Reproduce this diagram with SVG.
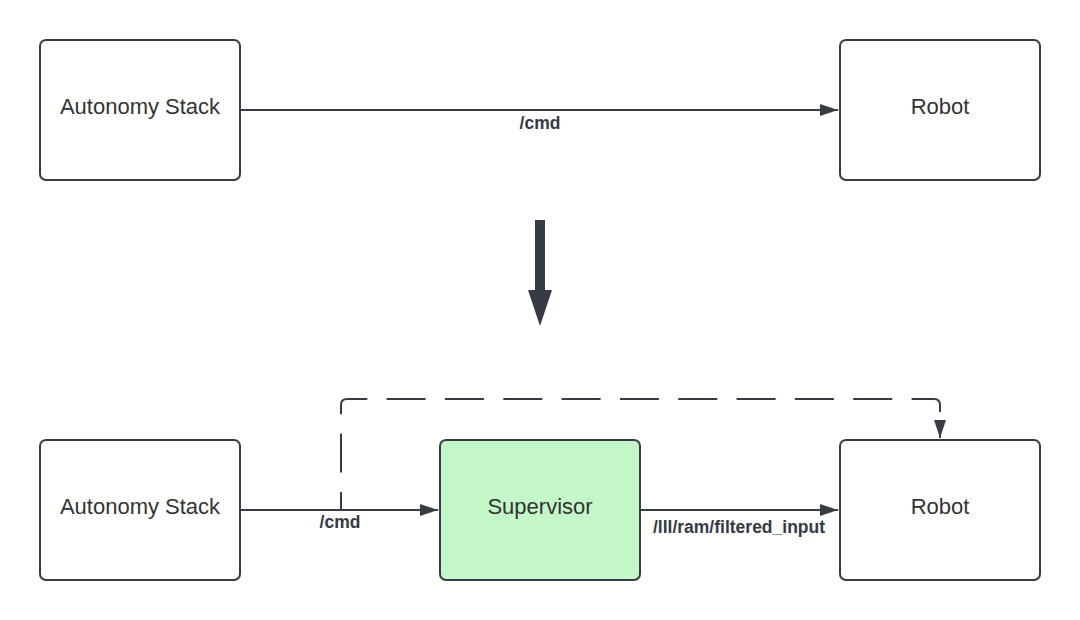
<svg xmlns="http://www.w3.org/2000/svg" width="1080" height="620" viewBox="0 0 1080 620">
<defs>
<style>
.box{fill:#ffffff;stroke:#363c46;stroke-width:2}
.sup{fill:#c3f7c8;stroke:#363c46;stroke-width:2}
.lbl{font-family:"Liberation Sans",Arial,sans-serif;font-size:22px;fill:#333333;text-anchor:middle}
.elbl{font-family:"Liberation Sans",Arial,sans-serif;font-size:17.5px;font-weight:bold;fill:#333a44;text-anchor:middle}
.conn{fill:none;stroke:#363c46;stroke-width:2}
.dash{stroke-dasharray:39 19.33;stroke-dashoffset:20.9}
</style>
<marker id="arr" viewBox="0 0 18 12" refX="18" refY="6" markerWidth="18" markerHeight="12" markerUnits="userSpaceOnUse" orient="auto">
<path d="M0,0 L18,6 L0,12 Z" fill="#363c46"/>
</marker>
</defs>
<rect width="1080" height="620" fill="#ffffff"/>
<g id="connectors">
<path class="conn" d="M241,110 H838" marker-end="url(#arr)"/>
<path class="conn" d="M241,510 H438" marker-end="url(#arr)"/>
<path class="conn" d="M641,510 H838" marker-end="url(#arr)"/>
<path class="conn dash" d="M341,510 V405 Q341,399 347,399 H934 Q940,399 940,405 V438" marker-end="url(#arr)"/>
<text class="elbl" x="540" y="129">/cmd</text>
<text class="elbl" x="340" y="528">/cmd</text>
<text class="elbl" x="739" y="533">/lll/ram/filtered_input</text>
</g>
<g id="transition-arrow">
<path d="M535,220 H545 V290 H552 L540,326 L528,290 H535 Z" fill="#363c46"/>
</g>
<g id="top-autonomy">
<rect class="box" x="40" y="40" width="200" height="140" rx="6"/>
<text class="lbl" x="140" y="113.5">Autonomy Stack</text>
</g>
<g id="top-robot">
<rect class="box" x="840" y="40" width="200" height="140" rx="6"/>
<text class="lbl" x="940" y="113.5">Robot</text>
</g>
<g id="bottom-autonomy">
<rect class="box" x="40" y="440" width="200" height="140" rx="6"/>
<text class="lbl" x="140" y="513.5">Autonomy Stack</text>
</g>
<g id="supervisor">
<rect class="sup" x="440" y="440" width="200" height="140" rx="6"/>
<text class="lbl" x="540" y="513.5">Supervisor</text>
</g>
<g id="bottom-robot">
<rect class="box" x="840" y="440" width="200" height="140" rx="6"/>
<text class="lbl" x="940" y="513.5">Robot</text>
</g>
</svg>
